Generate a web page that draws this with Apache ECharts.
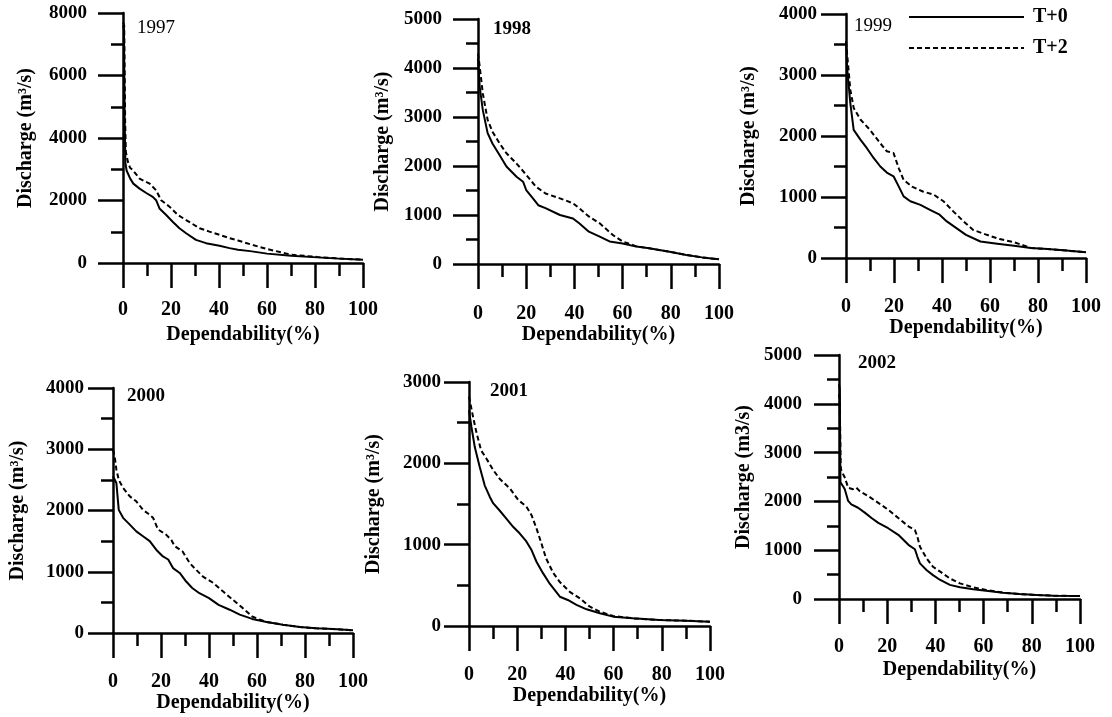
<!DOCTYPE html>
<html>
<head>
<meta charset="utf-8">
<script src="https://cdn.jsdelivr.net/npm/echarts@6/dist/echarts.min.js"></script>
<style>
  html, body { margin: 0; padding: 0; background: #fff; }
  #chart { width: 1112px; height: 717px; }
</style>
</head>
<body>
<div id="chart"></div>
<script>
// values: [dependability %, discharge m3/s]
const years = ['1997', '1998', '1999', '2000', '2001', '2002'];
const yMax = [8000, 5000, 4000, 4000, 3000, 5000];
const yStep = [2000, 1000, 1000, 1000, 1000, 1000];
const yNames = ['Discharge (m³/s)', 'Discharge (m³/s)', 'Discharge (m³/s)', 'Discharge (m³/s)', 'Discharge (m³/s)', 'Discharge (m3/s)'];
const xName = 'Dependability(%)';
const seriesNames = ['T+0', 'T+2'];

const t0_1997 = [[0,7600],[0.4,7500],[0.7,4500],[1,3200],[1.5,2960],[3,2700],[4.3,2540],[6.9,2380],[9.7,2240],[12.4,2116],[13.8,2010],[15.2,1746],[18,1534],[20.7,1322],[23.5,1111],[26.3,952],[30.4,740],[34.6,635],[40.2,550],[44.4,476],[47.9,423],[53,380],[60,300],[70,235],[81,180],[90,140],[100,105]];
const t2_1997 = [[0,7700],[0.5,7600],[0.9,4500],[1.2,3550],[2,3250],[2.9,3050],[4,2980],[6.9,2700],[11.1,2540],[13.8,2328],[15.9,2010],[19.4,1800],[22.9,1534],[26.3,1375],[31.9,1111],[36,1005],[40.2,900],[44.4,794],[47.9,720],[53,600],[60,448],[70,267],[81,192],[90,145],[100,105]];

const t0_1998 = [[0,4200],[0.7,3620],[2,3140],[4,2670],[6,2460],[9,2220],[11.8,1990],[16,1780],[18.7,1680],[20,1510],[22.8,1340],[25,1200],[28,1140],[34,1000],[39.4,930],[42,830],[46,660],[50.5,560],[54.6,460],[60,420],[65.7,355],[71,320],[79.5,250],[86.4,185],[93,135],[100,95]];
const t2_1998 = [[0,4300],[0.7,4030],[2,3480],[4,2940],[6,2700],[9,2460],[11.8,2260],[16,2050],[20,1820],[24,1580],[28,1440],[34,1340],[39.4,1240],[42,1140],[46,970],[50.5,830],[56,590],[60,460],[65.7,360],[71,320],[79.5,250],[86.4,185],[93,135],[100,95]];

const t0_1999 = [[0,3550],[0.4,3140],[1.8,2540],[3.2,2100],[6,1940],[8.7,1800],[11.5,1640],[14.3,1500],[17,1400],[19.8,1340],[22,1170],[24,1010],[26.8,930],[31,870],[35,790],[39,710],[42,600],[46,490],[50,380],[56,270],[63,235],[70,200],[77,165],[84,147],[90.6,126],[100,93]];
const t2_1999 = [[0,3550],[0.4,3520],[1.8,2760],[3.2,2460],[6,2270],[10,2100],[14.3,1880],[17,1750],[19.8,1720],[22,1470],[24,1280],[27.5,1170],[32,1090],[36.5,1040],[40.6,930],[44.8,760],[49,600],[53,460],[58.7,380],[64,310],[70,260],[77,165],[84,147],[90.6,126],[100,93]];

const t0_2000 = [[0,2560],[1.4,2450],[2.4,2010],[4.2,1880],[7,1770],[9.7,1660],[12.5,1580],[15.3,1500],[18,1360],[20.8,1250],[23,1200],[25,1060],[27.8,980],[30.5,840],[33,735],[36,650],[40,570],[44,460],[48.6,380],[52.8,300],[58,230],[64,180],[70.8,136],[77.8,98],[84.7,76],[91.7,65],[100,44]];
const t2_2000 = [[0,2990],[0.7,2880],[1.4,2670],[2.4,2500],[4.2,2370],[7,2230],[9.7,2150],[12.5,2010],[14.6,1950],[16.7,1880],[18.75,1690],[22,1610],[24.3,1520],[25.7,1420],[29,1330],[32,1140],[34.7,1030],[37.5,920],[41.7,820],[45.8,680],[50,540],[54,410],[58,270],[61,220],[64,180],[70.8,136],[77.8,98],[84.7,76],[91.7,65],[100,44]];

const t0_2001 = [[0,2650],[1,2450],[2.4,2200],[4.4,1960],[6.5,1730],[8.6,1590],[10,1510],[12.7,1420],[15.5,1320],[18.3,1220],[21,1140],[23.8,1040],[26,930],[28,790],[30.7,650],[33.5,520],[35.6,440],[37.7,360],[41,320],[44.6,260],[48.8,205],[54.3,156],[59.8,115],[68,94],[79,74],[90,65],[100,53]];
const t2_2001 = [[0,2820],[1.7,2570],[3,2390],[5,2160],[7.2,2060],[10,1920],[12.7,1810],[17,1690],[20.4,1550],[23.8,1470],[26,1360],[28,1200],[30,1020],[32,830],[35,650],[37.7,540],[41.8,420],[46,340],[50,240],[54.3,176],[59.8,123],[68,94],[79,74],[90,65],[100,53]];

const t0_2002 = [[0,4400],[0.3,4300],[0.6,2390],[1.8,2300],[2.4,2250],[3.8,2010],[5.1,1940],[7.9,1870],[10.7,1770],[13.5,1660],[16.3,1560],[20.4,1450],[24.6,1315],[28.8,1110],[31.5,1020],[32.5,870],[33.6,730],[36.4,590],[39,490],[42,390],[46,290],[50.2,240],[55.7,200],[61,170],[68,130],[75,100],[82,82],[89,68],[100,61]];
const t2_2002 = [[0,4200],[0.3,4100],[0.7,2700],[1,2630],[2.4,2490],[3.8,2280],[5.8,2250],[7.2,2280],[8.6,2210],[12.1,2110],[16.3,1970],[20.4,1830],[24.6,1660],[28.8,1490],[31.5,1410],[32.5,1280],[33.6,1070],[36.4,830],[39,660],[42,560],[46,420],[50.2,320],[55.7,240],[61,185],[68,130],[75,100],[82,82],[89,68],[100,61]];

const t0 = [t0_1997, t0_1998, t0_1999, t0_2000, t0_2001, t0_2002];
const t2 = [t2_1997, t2_1998, t2_1999, t2_2000, t2_2001, t2_2002];

// panel placement in the 1112x717 picture
const layout = [
  { left: 123, top: 13, width: 240, height: 250, yLab: 36, yGap: 87, xLab: 37, xGap: 62, yearX: 137, yearY: 19, bold: false },
  { left: 478, top: 19, width: 241, height: 245, yLab: 36, yGap: 85, xLab: 40, xGap: 56, yearX: 493, yearY: 20, bold: true },
  { left: 846, top: 14, width: 240, height: 244, yLab: 29, yGap: 87, xLab: 39, xGap: 56, yearX: 854, yearY: 17, bold: false },
  { left: 113, top: 388, width: 240, height: 245, yLab: 29, yGap: 85, xLab: 39, xGap: 54, yearX: 127, yearY: 387, bold: true },
  { left: 469, top: 382, width: 241, height: 244, yLab: 28, yGap: 85, xLab: 39, xGap: 57, yearX: 490, yearY: 382, bold: true },
  { left: 839, top: 355, width: 241, height: 244, yLab: 37, yGap: 85, xLab: 38, xGap: 61, yearX: 858, yearY: 354, bold: true }
];

const serif = "'Liberation Serif', 'Times New Roman', serif";
const axisLine = { show: true, onZero: false, lineStyle: { color: '#000', width: 2.5 } };
const axisTick = { show: true, inside: false, length: 25, lineStyle: { color: '#000', width: 2.5 } };
const plain = v => String(v);

const grid = [], xAxis = [], yAxis = [], series = [], graphic = [];
layout.forEach((p, i) => {
  grid.push({ left: p.left, top: p.top, width: p.width, height: p.height, containLabel: false, outerBoundsMode: 'none' });
  xAxis.push({
    gridIndex: i, type: 'value', min: 0, max: 100, interval: 20,
    name: xName, nameLocation: 'middle', nameGap: p.xGap,
    nameTextStyle: { fontFamily: serif, fontWeight: 'bold', fontSize: 20, color: '#000' },
    axisLine, axisTick,
    minorTick: { show: true, splitNumber: 2, length: 13, lineStyle: { color: '#000', width: 2.5 } },
    splitLine: { show: false },
    axisLabel: { margin: p.xLab, formatter: plain, fontFamily: serif, fontWeight: 'bold', fontSize: 20, color: '#000' }
  });
  yAxis.push({
    gridIndex: i, type: 'value', min: 0, max: yMax[i], interval: yStep[i],
    name: yNames[i], nameLocation: 'middle', nameGap: p.yGap,
    nameTextStyle: { fontFamily: serif, fontWeight: 'bold', fontSize: 20, color: '#000' },
    axisLine, axisTick,
    minorTick: { show: true, splitNumber: 2, length: 12, lineStyle: { color: '#000', width: 2.5 } },
    splitLine: { show: false },
    axisLabel: { margin: p.yLab, formatter: plain, fontFamily: serif, fontWeight: 'bold', fontSize: 19, color: '#000' }
  });
  series.push({
    name: seriesNames[0], type: 'line', xAxisIndex: i, yAxisIndex: i,
    data: t0[i], symbol: 'none', smooth: false,
    lineStyle: { color: '#000', width: 2 }, itemStyle: { color: '#000' }
  });
  series.push({
    name: seriesNames[1], type: 'line', xAxisIndex: i, yAxisIndex: i,
    data: t2[i], symbol: 'none', smooth: false,
    lineStyle: { color: '#000', width: 2, type: [5, 3] }, itemStyle: { color: '#000' }
  });
  graphic.push({
    type: 'text', left: p.yearX, top: p.yearY,
    style: { text: years[i], fill: '#000', font: (p.bold ? 'bold ' : '') + '19px ' + serif }
  });
});

const chart = echarts.init(document.getElementById('chart'));
chart.setOption({
  backgroundColor: '#fff',
  animation: false,
  legend: {
    data: seriesNames, orient: 'vertical', left: 908, top: 7, padding: 0,
    itemWidth: 115, itemHeight: 20, itemGap: 11,
    itemStyle: { opacity: 0 },
    textStyle: { fontFamily: serif, fontWeight: 'bold', fontSize: 20, color: '#000', padding: [0, 0, 0, 4] }
  },
  grid, xAxis, yAxis, series, graphic
});
</script>
</body>
</html>
